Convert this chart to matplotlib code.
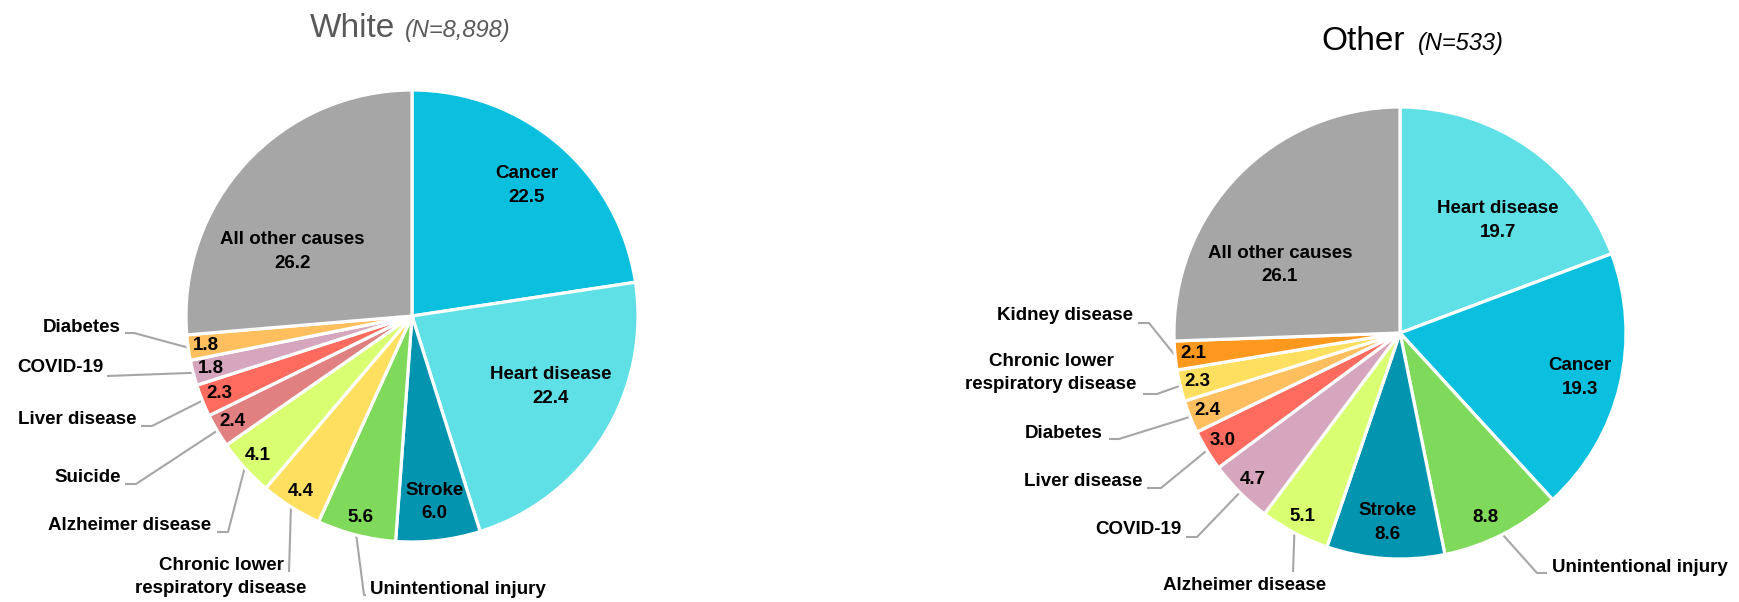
import numpy as np
import matplotlib
matplotlib.use("Agg")
import matplotlib.pyplot as plt

plt.rcParams['font.family'] = ['Liberation Sans', 'DejaVu Sans']

# ---------------- data ----------------
white_causes = ["Cancer", "Heart disease", "Stroke", "Unintentional injury",
                "Chronic lower\nrespiratory disease", "Alzheimer disease", "Suicide",
                "Liver disease", "COVID-19", "Diabetes", "All other causes"]
white_values = [22.5, 22.4, 6.0, 5.6, 4.4, 4.1, 2.4, 2.3, 1.8, 1.8, 26.2]
white_title = "White"
white_n = "(N=8,898)"

other_causes = ["Heart disease", "Cancer", "Unintentional injury", "Stroke",
                "Alzheimer disease", "COVID-19", "Liver disease", "Diabetes",
                "Chronic lower\nrespiratory disease", "Kidney disease", "All other causes"]
other_values = [19.7, 19.3, 8.8, 8.6, 5.1, 4.7, 3.0, 2.4, 2.3, 2.1, 26.1]
other_title = "Other"
other_n = "(N=533)"

# ---------------- styles ----------------
cause_colors = {
    "Cancer": "#0BC0DF",
    "Heart disease": "#5EE0E6",
    "Stroke": "#0395B0",
    "Unintentional injury": "#7FDA5B",
    "Chronic lower\nrespiratory disease": "#FFDF60",
    "Alzheimer disease": "#DAFE72",
    "Suicide": "#E08080",
    "Liver disease": "#FF6B5F",
    "COVID-19": "#D5A6BD",
    "Diabetes": "#FFBF5F",
    "Kidney disease": "#FF981F",
    "All other causes": "#A6A6A6",
}

W, H = 1739, 602
fig = plt.figure(figsize=(W / 100, H / 100), dpi=100)
ax = fig.add_axes([0, 0, 1, 1])
ax.axis('off')

LABEL_FS = 13.5
LEADER_COLOR = "#A6A6A6"


def Y(y):  # image (y-down) pixel to data (y-up)
    return H - y


# layout per pie: center, radius, inside labels (radius frac, angle offset),
# outside labels (text pos, ha, leader start, elbow)
white_layout = dict(
    center=(412, 316), radius=226,
    inside={"Cancer": (0.77, -0.6), "Heart disease": (0.69, 5.0),
            "Stroke": (0.83, 0.3), "All other causes": (0.60, 14.2)},
    value_only_frac=0.92,
    outside={
        "Diabetes": ((121, 328), 'right', (125, 333), (134, 333)),
        "COVID-19": ((103, 368), 'right', (107, 376), (107, 376)),
        "Liver disease": ((136, 420), 'right', (141, 426), (152, 426)),
        "Suicide": ((121, 477), 'right', (125, 484), (136, 484)),
        "Alzheimer disease": ((211, 526), 'right', (217, 532), (228, 532)),
        "Chronic lower\nrespiratory disease": ((221, 577), 'center', (289, 572), (289, 572)),
        "Unintentional injury": ((370, 589), 'left', (366, 595), (364, 595)),
    },
    title_pos=(395, 37), n_pos=(405, 37), title_color="#595959",
)

other_layout = dict(
    center=(1400, 333), radius=226,
    inside={"Heart disease": (0.66, -6.3), "Cancer": (0.82, -0.4),
            "Stroke": (0.84, 0.0), "All other causes": (0.61, 14.5)},
    value_only_frac=0.92,
    value_override={"Unintentional injury": (0.90, -2.0)},
    outside={
        "Kidney disease": ((1133, 316), 'right', (1138, 323), (1149, 323)),
        "Chronic lower\nrespiratory disease": ((1051, 373), 'center', (1143, 394), (1157, 394)),
        "Diabetes": ((1103, 433), 'right', (1109, 439), (1119, 439)),
        "Liver disease": ((1143, 482), 'right', (1147, 488), (1161, 488)),
        "COVID-19": ((1181, 529), 'right', (1186, 537), (1197, 537)),
        "Alzheimer disease": ((1245, 586), 'center', (1293, 572), (1293, 572)),
        "Unintentional injury": ((1552, 567), 'left', (1547, 573), (1537, 573)),
    },
    title_pos=(1405, 50), n_pos=(1418, 50), title_color="#000000",
)


def draw_pie(causes, values, title, n_text, lay):
    cx, cy = lay['center']
    R = lay['radius']
    wedges, _ = ax.pie(values, colors=[cause_colors[c] for c in causes],
                       startangle=90, counterclock=False,
                       center=(cx, Y(cy)), radius=R,
                       wedgeprops=dict(edgecolor='white', linewidth=2.3))
    for w, cause, val in zip(wedges, causes, values):
        mid = 0.5 * (w.theta1 + w.theta2)
        vtxt = f"{val:.1f}"
        if cause in lay['inside']:
            frac, dth = lay['inside'][cause]
            a = np.deg2rad(mid + dth)
            ax.text(cx + frac * R * np.cos(a), Y(cy) + frac * R * np.sin(a),
                    f"{cause}\n{vtxt}", ha='center', va='center',
                    fontsize=LABEL_FS, fontweight='bold', linespacing=1.5)
            continue
        frac, dth = lay.get('value_override', {}).get(cause, (lay['value_only_frac'], 0.0))
        a = np.deg2rad(mid + dth)
        ax.text(cx + frac * R * np.cos(a), Y(cy) + frac * R * np.sin(a),
                vtxt, ha='center', va='center',
                fontsize=LABEL_FS, fontweight='bold')
        (tx, ty), ha, p0, p1 = lay['outside'][cause]
        ax.text(tx, Y(ty), cause, ha=ha, va='center', fontsize=LABEL_FS,
                fontweight='bold', linespacing=1.45,
                multialignment='center')
        am = np.deg2rad(mid)
        ex, ey = cx + 1.0 * R * np.cos(am), Y(cy) + 1.0 * R * np.sin(am)
        ax.plot([p0[0], p1[0], ex], [Y(p0[1]), Y(p1[1]), ey],
                color=LEADER_COLOR, lw=1.5, solid_capstyle='butt', zorder=0.5)
    tx, ty = lay['title_pos']
    ax.text(tx, Y(ty), title, ha='right', va='baseline', fontsize=24,
            color=lay['title_color'])
    nx, ny = lay['n_pos']
    ax.text(nx, Y(ny), n_text, ha='left', va='baseline', fontsize=17,
            style='italic', color=lay['title_color'])


draw_pie(white_causes, white_values, white_title, white_n, white_layout)
draw_pie(other_causes, other_values, other_title, other_n, other_layout)

ax.set_aspect('auto')
ax.set_xlim(0, W)
ax.set_ylim(0, H)

fig.savefig("out.png", dpi=100)
